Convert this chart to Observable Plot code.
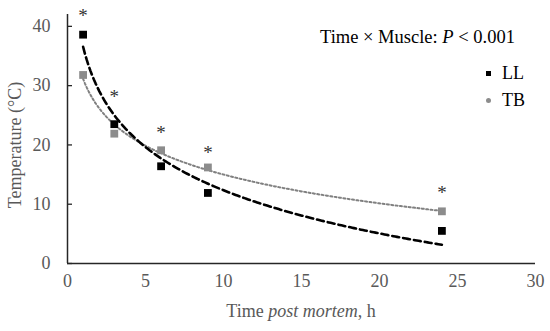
<!DOCTYPE html>
<html><head><meta charset="utf-8">
<script src="https://cdn.jsdelivr.net/npm/d3@7"></script>
<script src="https://cdn.jsdelivr.net/npm/@observablehq/plot@0.6"></script>
<style>
body{margin:0;background:#fff;}
#chart{position:relative;width:550px;height:331px;font-family:"Liberation Serif","Times New Roman",serif;}
.leg{position:absolute;color:#000;font-size:18px;white-space:nowrap;line-height:18px;font-family:"Liberation Serif","Times New Roman",serif;}
.mk{position:absolute;}
</style></head><body><div id="chart"></div>
<script>
const hours = [1, 3, 6, 9, 24];
const tempLL = [38.6, 23.5, 16.4, 11.9, 5.5];
const tempTB = [31.8, 21.9, 19.1, 16.2, 8.8];
const asteriskY = [42.4, 28.8, 22.7, 19.3, 12.6];
const xTicks = [0, 5, 10, 15, 20, 25, 30];
const yTicks = [0, 10, 20, 30, 40];

function logFit(xs, ys) {
  const lx = xs.map(Math.log);
  const mx = d3.mean(lx), my = d3.mean(ys);
  const b = d3.sum(lx, (v, i) => (v - mx) * (ys[i] - my)) / d3.sum(lx, v => (v - mx) ** 2);
  const a = my - b * mx;
  return t => a + b * Math.log(t);
}
const fLL = logFit(hours, tempLL), fTB = logFit(hours, tempTB);
const tMin = d3.min(hours), tMax = d3.max(hours);
const tGrid = d3.range(0, 201).map(i => tMin + i * (tMax - tMin) / 200);
const trendLL = tGrid.map(t => ({t, v: fLL(t)}));
const trendTB = tGrid.map(t => ({t, v: fTB(t)}));
const ptsLL = hours.map((t, i) => ({t, v: tempLL[i]}));
const ptsTB = hours.map((t, i) => ({t, v: tempTB[i]}));
const stars = hours.map((t, i) => ({t, v: asteriskY[i]}));

const font = '"Liberation Serif","Times New Roman",serif';
const plot = Plot.plot({
  width: 550, height: 331,
  marginLeft: 67, marginRight: 15, marginTop: 14, marginBottom: 68,
  style: {fontFamily: font, background: "#fff", overflow: "visible"},
  x: {domain: [0, 30]},
  y: {domain: [0, 42]},
  marks: [
    Plot.axisX({ticks: xTicks, tickSize: 0, tickPadding: 11, fontSize: 18, fill: "#595959", fontFamily: font, label: null}),
    Plot.axisY({ticks: yTicks, tickSize: -5, tickPadding: 22, fontSize: 18, fill: "#595959", fontFamily: font, stroke: "#262626", strokeWidth: 1.3, label: null}),
    Plot.ruleX([0], {stroke: "#262626", strokeWidth: 1.5}),
    Plot.ruleY([0], {stroke: "#262626", strokeWidth: 1.5}),
    Plot.line(trendTB, {x: "t", y: "v", stroke: "#808080", strokeWidth: 2, strokeDasharray: "2,2.4"}),
    Plot.line(trendLL, {x: "t", y: "v", stroke: "#000", strokeWidth: 2.6, strokeDasharray: "7,4"}),
    Plot.dot(ptsTB, {x: "t", y: "v", symbol: "square", r: 4.4, fill: "#8c8c8c", stroke: "none"}),
    Plot.dot(ptsLL, {x: "t", y: "v", symbol: "square", r: 4.4, fill: "#000", stroke: "none"}),
    Plot.text(stars, {x: "t", y: "v", text: () => "*", fontSize: 19, fill: "#333333", fontFamily: font, lineAnchor: "middle", dy: 4})
  ]
});
const chart = document.getElementById("chart");
chart.appendChild(plot);
const svg = d3.select(plot);
svg.append("text")
  .attr("transform", "translate(17,145) rotate(-90)")
  .attr("text-anchor", "middle").attr("dominant-baseline", "middle")
  .attr("fill", "#595959").attr("font-size", 18).attr("font-family", font)
  .text("Temperature (°C)");
const xt = svg.append("text")
  .attr("x", 301).attr("y", 313)
  .attr("text-anchor", "middle").attr("dominant-baseline", "middle")
  .attr("fill", "#595959").attr("font-size", 18).attr("font-family", font);
xt.append("tspan").text("Time ");
xt.append("tspan").attr("font-style", "italic").text("post mortem");
xt.append("tspan").text(", h");

function addDiv(cls, css, html) {
  const d = document.createElement("div");
  d.className = cls; d.style.cssText = css; d.innerHTML = html;
  chart.appendChild(d);
}
addDiv("leg", "left:320px;top:28px;font-size:18.5px;", "Time × Muscle: <i>P</i> &lt; 0.001");
addDiv("mk", "left:486px;top:71px;width:5px;height:5px;background:#000;", "");
addDiv("leg", "left:502px;top:64px;", "LL");
addDiv("mk", "left:486px;top:98px;width:5px;height:5px;border-radius:50%;background:#8c8c8c;", "");
addDiv("leg", "left:502px;top:91px;", "TB");
</script></body></html>
